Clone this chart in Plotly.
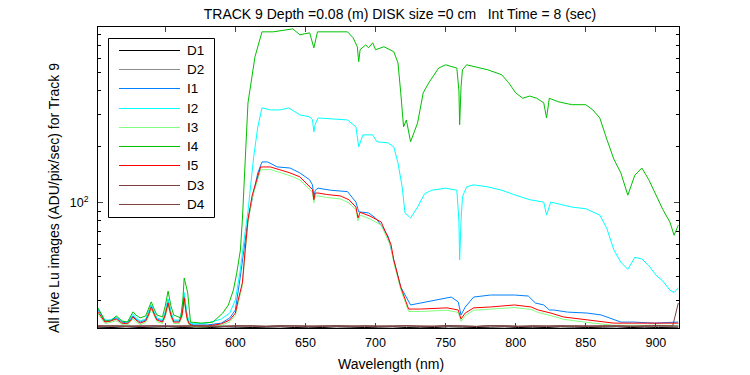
import plotly.graph_objects as go

# ---------------- data ----------------
wl_i5 = [502, 505, 507, 511, 513, 515, 517, 519, 523, 525, 527, 529, 532, 536, 538, 540, 542, 544, 548, 550,
         552, 554, 556, 560, 562, 563.5, 564.5, 565.5, 567, 570, 580, 590, 596, 600, 602, 605, 607, 609, 612, 616,
         618, 625, 632, 639, 646, 653, 655, 656, 657, 659, 665, 675, 681, 686, 687.5, 689, 696, 704, 711, 713,
         718, 723.6, 732, 751, 759, 761, 764, 770, 782, 799, 811, 816, 825, 834, 851, 870, 894, 916]
i5 = [25.9, 24.0, 22.9, 23.2, 23.5, 23.8, 23.2, 22.6, 22.4, 23.2, 24.4, 23.5, 22.6, 23.2, 25.0, 27.6, 25.3, 23.5, 22.9, 25.0,
      29.0, 25.0, 22.9, 22.9, 25.0, 30.9, 27.0, 24.0, 22.4, 21.8, 21.8, 22.4, 23.5, 25.6, 30.0, 37.2, 55.9, 81.0, 110, 141,
      156, 156, 150, 145, 138, 122, 118, 104, 113, 113, 111, 109, 104, 95, 83, 89, 85, 79, 60, 49.4,
      35.3, 26.9, 26.9, 27.3, 26.6, 23.8, 25.6, 27.3, 27.6, 28.3, 27.6, 26.6, 25.6, 24.4, 23.5, 22.6, 22.6, 22.6]
i3 = [25.3, 23.5, 22.5, 22.8, 23.0, 23.3, 22.8, 22.2, 22.0, 22.8, 23.9, 23.0, 22.2, 22.8, 24.4, 26.9, 24.7, 23.0, 22.5, 24.4,
      28.2, 24.4, 22.5, 22.5, 24.4, 30.0, 26.3, 23.5, 22.0, 21.6, 21.6, 22.0, 23.0, 24.9, 29.0, 36.0, 54.0, 78.5, 106, 136,
      151, 151, 145, 140, 133, 118, 114, 100, 109, 109, 107, 105, 100, 92, 80, 86, 82, 76, 58, 47.8,
      34.2, 26.1, 26.1, 26.5, 25.8, 23.1, 24.8, 26.5, 26.8, 27.4, 26.8, 25.8, 24.8, 23.7, 22.8, 22.0, 22.0, 22.0]

wl_low = [502, 505, 507, 511, 513, 515, 517, 519, 523, 525, 527, 529, 532, 536, 538, 540, 542, 544, 548, 550,
          552, 554, 556, 560, 562, 563.5, 564.5, 565.5, 567, 570, 580, 590, 596, 600]

wl_i1 = wl_low + [603.5, 605, 607, 609, 612, 614, 616, 619, 623, 630, 639, 646, 653, 655, 656, 657, 659, 668, 680, 686,
                  688, 695, 700, 704, 709, 713, 718, 725, 732, 739, 746, 754, 759, 761, 764, 770, 782, 799, 809, 814,
                  820, 824, 827, 837, 851, 861, 875, 884, 899, 916]
i1 = [26.6, 24.5, 23.2, 23.5, 23.8, 24.1, 23.5, 22.9, 22.6, 23.5, 24.7, 23.8, 22.9, 23.5, 25.5, 28.3, 25.8, 23.8, 23.2, 25.6,
      30.1, 25.6, 23.2, 23.2, 25.6, 31.6, 27.8, 24.5, 22.6, 22.1, 22.1, 22.6, 24.1, 26.6,
      40, 48, 62, 81, 105, 122, 145, 166, 166, 156, 154, 145, 133, 125, 108, 117, 120, 117, 115, 101,
      89.5, 88.4, 83, 76, 66, 49.4, 35.3, 28.3, 29.0, 29.7, 30.5, 31.2, 29.4, 25.0, 27.6, 31.2, 32.0, 32.0, 31.6, 29.0,
      28.3, 26.6, 26.6, 25.9, 25.6, 25.0, 22.9, 22.9, 22.6, 22.9]

wl_i2 = wl_low + [603.5, 605, 607, 609, 611, 613, 616, 619, 625, 632, 638, 646, 653, 655, 656, 657, 659, 670, 680, 686,
                  688, 691, 698, 701, 709, 713, 716, 719, 721, 725, 730, 735, 740, 750, 758, 759.5, 760, 761, 762, 765,
                  770, 780, 790, 800, 810, 820, 822, 825, 830, 840, 850, 860, 865, 870, 875, 880, 885, 890, 895, 900,
                  905, 910, 913, 916]
i2 = [27.0, 25.0, 23.5, 23.5, 24.0, 24.4, 23.8, 23.2, 22.9, 24.0, 25.3, 24.2, 23.2, 23.8, 25.8, 28.3, 26.0, 24.1, 23.5, 26.0,
      30.5, 26.0, 23.5, 23.5, 26.5, 33.0, 29.0, 25.5, 22.9, 22.4, 22.6, 23.8, 25.6, 30.1,
      43.6, 55, 70, 90, 125, 175, 256, 324, 316, 316, 324, 297, 290, 280, 241, 265, 286, 283, 279, 256,
      200, 232, 232, 213, 210, 200, 164, 122, 88.4, 83, 95, 112, 117, 120, 117, 80, 49.4, 80, 108, 122,
      125, 122, 117, 110, 104, 101, 86, 101, 99, 95, 93, 86, 73, 56, 48, 44, 51, 50, 46, 41,
      38, 34, 33, 35]

wl_i4 = [502, 504, 507, 511, 513, 515, 517, 519, 523, 525, 527, 529, 532, 536, 538, 540, 542, 544, 548, 550,
         552, 554, 556, 561, 562.5, 563.5, 565, 566, 568, 576, 584, 591, 595, 598.6, 601, 603.6,
         605, 607, 609, 614, 619, 627, 641, 646, 653, 656, 658.6, 680, 684, 687, 688, 689, 693, 695, 698, 700,
         706, 713, 716, 718, 720, 722, 725, 730, 734, 738, 745, 750, 755, 758, 759.5, 760, 761, 762, 765, 770,
         780, 790, 795, 800, 805, 810, 815, 820, 822, 824, 830, 840, 850, 855, 860, 865, 870, 875, 880, 885,
         890, 895, 900, 905, 910, 913, 916]
i4 = [27.3, 25.5, 23.2, 23.2, 24.0, 24.7, 24.0, 23.2, 22.9, 24.2, 26.0, 25.0, 24.1, 24.7, 27.0, 29.4, 27.0, 25.0, 24.4, 28.0,
      33.6, 28.0, 25.0, 24.1, 30.0, 39.5, 35.5, 32.8, 22.9, 22.6, 22.9, 25.6, 28.3, 34.0, 42.1, 55.9,
      81, 186, 345, 610, 830, 830, 861, 800, 820, 681, 830, 830, 771, 690, 573, 665, 707, 681, 725, 665,
      690, 649, 566, 390, 256, 279, 213, 269, 390, 442, 530, 552, 540, 530, 400, 263, 420, 519, 552, 540,
      519, 488, 442, 390, 365, 375, 365, 345, 286, 365, 350, 337, 337, 316, 286, 220, 172, 145, 110, 141,
      154, 133, 110, 92, 79, 67, 76]

wl_d = [502, 512, 522, 532, 542, 552, 562, 572, 582, 592, 602, 612, 622, 632, 642, 652, 662, 672, 682, 692, 702,
        712, 722, 732, 742, 752, 762, 772, 782, 792, 802, 812, 822, 832, 842, 852, 862, 872, 882, 892, 902, 912, 916]
d1 = [21.5, 21.4, 21.6, 21.4, 21.5, 21.6, 21.4, 21.5, 21.4, 21.6, 21.5, 21.4, 21.5, 21.6, 21.4, 21.5, 21.4, 21.6, 21.5,
      21.4, 21.5, 21.6, 21.4, 21.5, 21.4, 21.6, 21.5, 21.4, 21.5, 21.6, 21.4, 21.5, 21.4, 21.6, 21.5, 21.4, 21.5, 21.6,
      21.4, 21.5, 21.4, 21.6, 21.5]
d2 = [21.8, 21.7, 21.9, 21.7, 21.8, 21.9, 21.7, 21.8, 21.7, 21.9, 21.8, 21.7, 21.8, 21.9, 21.7, 21.8, 21.7, 21.9, 21.8,
      21.7, 21.8, 21.9, 21.7, 21.8, 21.7, 21.9, 21.8, 21.7, 21.8, 21.9, 21.7, 21.8, 21.7, 21.9, 21.8, 21.7, 21.8, 21.9,
      21.7, 21.8, 21.7, 21.9, 21.8]
d3 = [21.9, 21.8, 21.7, 21.9, 21.8, 21.7, 21.9, 21.8, 21.9, 21.7, 21.8, 21.9, 21.7, 21.8, 21.9, 21.8, 21.7, 21.9, 21.8,
      21.9, 21.7, 21.8, 21.9, 21.7, 21.8, 21.9, 21.8, 21.7, 21.9, 21.8, 21.9, 21.7, 21.8, 21.9, 21.7, 21.8, 21.9, 21.8,
      21.7, 21.9, 21.8, 21.9, 21.8]
d4 = [21.7, 21.9, 21.8, 21.7, 21.9, 21.8, 21.7, 21.9, 21.8, 21.7, 21.9, 21.8, 21.7, 21.9, 21.8, 21.7, 21.9, 21.8, 21.7,
      21.9, 21.8, 21.7, 21.9, 21.8, 21.7, 21.9, 21.8, 21.7, 21.9, 21.8, 21.7, 21.9, 21.8, 21.7, 21.9, 21.8, 21.7, 21.9,
      21.8, 21.7, 21.9, 21.8, 29.0]

x_ticks = [550, 600, 650, 700, 750, 800, 850, 900]
y_ticks = [100]
y_ticktext = ["10<sup>2</sup>"]
y_minor = [30, 40, 50, 60, 70, 80, 90, 200, 300, 400, 500, 600, 700, 800]

title_text = "TRACK 9 Depth =0.08 (m) DISK size =0 cm\u00a0\u00a0 Int Time = 8 (sec)"
x_title = "Wavelength (nm)"
y_title = "All five Lu images (ADU/pix/sec) for Track 9"

series_names = ["D1", "D2", "I1", "I2", "I3", "I4", "I5", "D3", "D4"]
series_x = [wl_d, wl_d, wl_i1, wl_i2, wl_i5, wl_i4, wl_i5, wl_d, wl_d]
series_y = [d1, d2, i1, i2, i3, i4, i5, d3, d4]
series_colors = ["#000000", "#8c8c8c", "#0080ff", "#00ffff", "#80ff80", "#00c000", "#ff0000", "#804040", "#804040"]

FONT = "Liberation Sans, Arial, Helvetica, sans-serif"

# plot-area geometry in pixels (for placing the legend/labels)
W, H = 750, 375
L, R, T, B = 98, 71, 27, 47
PW, PH = W - L - R, H - T - B
legend_rows_px = [50, 69, 88, 108, 127, 146, 165, 185, 204]


def px_x(px):
    return (px - L) / PW


def px_y(py):
    return 1 - (py - T) / PH


fig = go.Figure()
for name, xs, ys, col in zip(series_names, series_x, series_y, series_colors):
    fig.add_trace(go.Scatter(x=xs, y=ys, mode="lines", name=name,
                             line=dict(color=col, width=1)))

shapes = [dict(type="rect", xref="paper", yref="paper",
               x0=px_x(108.5), x1=px_x(214.5), y0=px_y(217.5), y1=px_y(38.5),
               line=dict(color="black", width=1), fillcolor="white", layer="above")]
annotations = []
for row_px, name, col in zip(legend_rows_px, series_names, series_colors):
    yy = px_y(row_px + 0.5)
    shapes.append(dict(type="line", xref="paper", yref="paper",
                       x0=px_x(119), x1=px_x(180), y0=yy, y1=yy,
                       line=dict(color=col, width=1), layer="above"))
    annotations.append(dict(text=name, xref="paper", yref="paper", x=px_x(185), y=yy,
                            xanchor="left", yanchor="middle", showarrow=False,
                            font=dict(size=13.5)))

annotations.append(dict(text=x_title, xref="paper", yref="paper", x=px_x(391), y=px_y(364),
                        xanchor="center", yanchor="middle", showarrow=False, font=dict(size=14)))
annotations.append(dict(text=y_title, xref="paper", yref="paper", x=px_x(54), y=px_y(198),
                        xanchor="center", yanchor="middle", showarrow=False, textangle=-90,
                        font=dict(size=14)))

fig.update_layout(
    width=W, height=H,
    margin=dict(l=L, r=R, t=T, b=B, autoexpand=False),
    paper_bgcolor="white", plot_bgcolor="white",
    font=dict(family=FONT, size=13, color="black"),
    title=dict(text=title_text, x=400 / W, xref="container", xanchor="center",
               y=1 - 14 / H, yref="container", yanchor="middle", font=dict(size=14)),
    showlegend=False,
    shapes=shapes,
    annotations=annotations,
)
fig.update_xaxes(range=[502, 916.5], tickvals=x_ticks, ticks="inside", ticklen=5,
                 showline=True, mirror="ticks", linecolor="black", linewidth=1,
                 showgrid=False, zeroline=False, automargin=False, ticklabelstandoff=3,
                 tickfont=dict(size=12.5))
fig.update_yaxes(type="log", range=[1.328, 2.945], tickvals=y_ticks, ticktext=y_ticktext,
                 ticks="inside", ticklen=5,
                 minor=dict(tickvals=y_minor, ticks="inside", ticklen=3, tickcolor="black"),
                 showline=True, mirror="ticks", linecolor="black", linewidth=1,
                 showgrid=False, zeroline=False, automargin=False, ticklabelstandoff=6,
                 tickfont=dict(size=12.5))

# remove the browser's default 8px page margin so the figure sits at the window's corner
fig.write_html("out.html", config={"displayModeBar": False},
               post_script="document.body.style.margin='0';")
